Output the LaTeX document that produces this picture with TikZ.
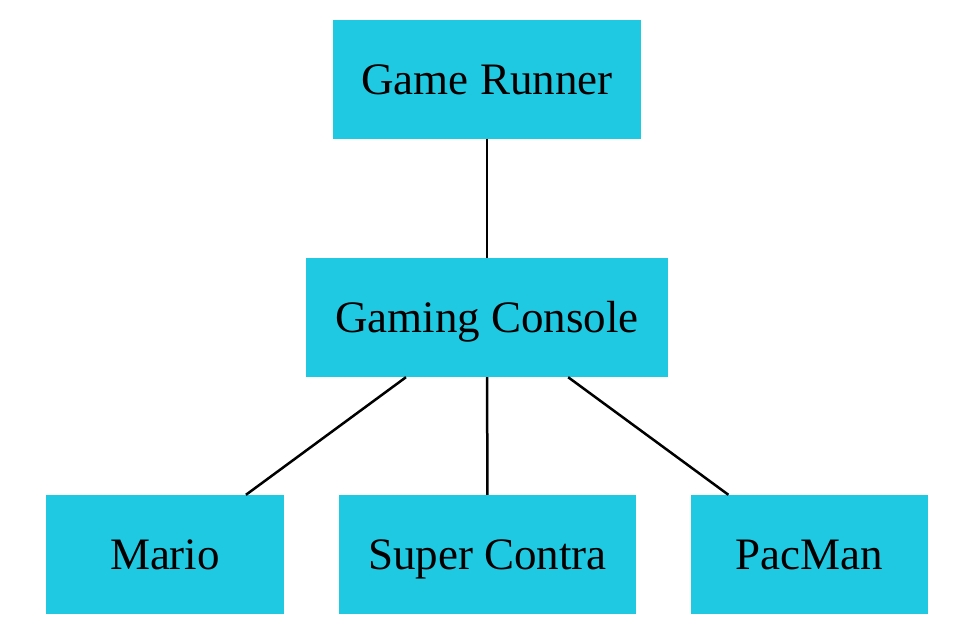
\documentclass[tikz,border=0pt]{standalone}
\usepackage{fontspec}
\setmainfont{Liberation Serif}
\definecolor{boxcyan}{HTML}{20C9E2}
\begin{document}
\begin{tikzpicture}[x=1pt,y=-1pt,
  box/.style={fill=boxcyan, draw=none, minimum height=119pt, inner sep=0pt, text height=32pt, text depth=2pt, font=\fontsize{45}{48}\selectfont},
  edge/.style={draw=black, line width=2.5pt}]
\useasboundingbox[fill=white] (0,0) rectangle (972,640);
\node[box, minimum width=308pt] (runner) at (487,79) {Game Runner};
\node[box, minimum width=362pt] (console) at (487,317.5) {Gaming Console};
\node[box, minimum width=238pt] (mario) at (165,554.5) {Mario};
\node[box, minimum width=297pt] (contra) at (487.5,554.5) {Super Contra};
\node[box, minimum width=237pt] (pacman) at (809.5,554.5) {PacMan};
\draw[edge] (runner) -- (console);
\draw[edge] (console) -- (mario);
\draw[edge] (console) -- (contra);
\draw[edge] (console) -- (pacman);
\end{tikzpicture}
\end{document}
